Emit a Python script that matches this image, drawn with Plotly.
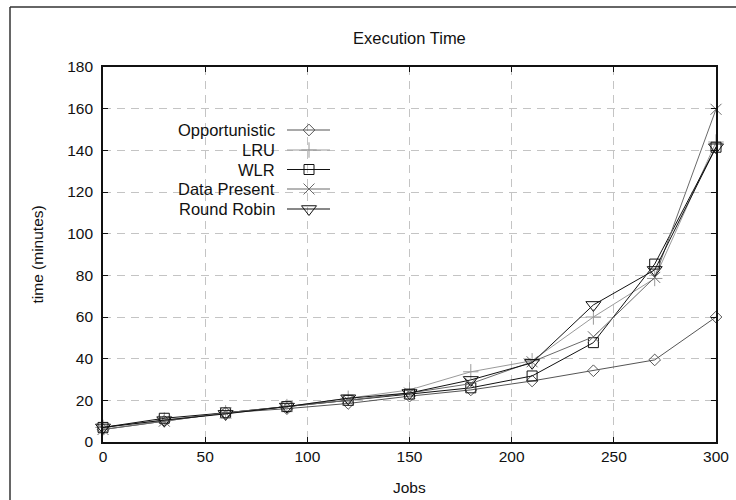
import plotly.graph_objects as go

jobs = [0, 30, 60, 90, 120, 150, 180, 210, 240, 270, 300]
opportunistic = [6, 10, 14, 16, 18.5, 22, 25, 29.3, 34.2, 39.4, 60]
lru = [7, 10.5, 14, 17, 21, 25, 33.7, 39, 60, 78.5, 144]
wlr = [7, 11.4, 14, 17, 20, 23, 26, 31.7, 47.7, 85.4, 141.5]
data_present = [6, 10, 14, 17, 20, 23.5, 28, 38.5, 50.5, 79, 159.7]
round_robin = [7, 10.5, 13.5, 17, 21, 23.5, 29.8, 38, 65.8, 82.6, 141.5]

series_names = ["Opportunistic", "LRU", "WLR", "Data Present", "Round Robin"]
series_values = [opportunistic, lru, wlr, data_present, round_robin]
colors = ["#555555", "#9a9a9a", "#111111", "#6a6a6a", "#111111"]
symbols = ["diamond-open", "cross-thin-open", "square-open", "x-thin-open", "triangle-down-open"]
sizes = [9, 11, 10, 11, 13]

# body margin is removed in the page (post_script), so figure coords = picture coords
W, H = 736, 500
L, R, T, B = 103, 716, 67, 442
FONT = "Liberation Sans, Arial, sans-serif"

fig = go.Figure()
for name, vals, c, s, sz in zip(series_names, series_values, colors, symbols, sizes):
    fig.add_trace(go.Scatter(
        x=jobs, y=vals, mode="lines+markers", name=name,
        line=dict(color=c, width=1),
        marker=dict(symbol=s, size=sz, color=c, line=dict(color=c, width=1)),
        showlegend=False, xaxis="x", yaxis="y", cliponaxis=False,
    ))

# custom legend (gnuplot style: label right-aligned, sample on the right)
leg_y = [130, 150, 169.5, 189, 209]
for name, c, s, sz, yy in zip(series_names, colors, symbols, sizes, leg_y):
    fig.add_trace(go.Scatter(
        x=[287, 330], y=[yy, yy], mode="lines", line=dict(color=c, width=1),
        showlegend=False, xaxis="x2", yaxis="y2", hoverinfo="skip"))
    fig.add_trace(go.Scatter(
        x=[309], y=[yy], mode="markers",
        marker=dict(symbol=s, size=sz, color=c, line=dict(color=c, width=1)),
        showlegend=False, xaxis="x2", yaxis="y2", hoverinfo="skip"))
    fig.add_annotation(x=277, y=yy, xref="x2", yref="y2", text=name,
                       showarrow=False, xanchor="right", yanchor="middle",
                       font=dict(family=FONT, size=16.5, color="#111"))

fig.add_annotation(x=(L + R) / 2, y=38, xref="x2", yref="y2", text="Execution Time",
                   showarrow=False, xanchor="center", yanchor="middle",
                   font=dict(family=FONT, size=16.5, color="#111"))
fig.add_annotation(x=(L + R) / 2, y=487, xref="x2", yref="y2", text="Jobs",
                   showarrow=False, xanchor="center", yanchor="middle",
                   font=dict(family=FONT, size=15.5, color="#111"))
fig.add_annotation(x=37, y=(T + B) / 2, xref="x2", yref="y2", text="time (minutes)",
                   showarrow=False, textangle=-90, xanchor="center", yanchor="middle",
                   font=dict(family=FONT, size=15.5, color="#111"))

# outer frame: only its left and top edges fall inside the picture
frame = dict(color="#333", width=1.5)
fig.add_shape(type="line", x0=10, y0=7, x1=W, y1=7, xref="x2", yref="y2",
              line=frame, layer="below")
fig.add_shape(type="line", x0=10, y0=7, x1=10, y1=H, xref="x2", yref="y2",
              line=frame, layer="below")

axis_common = dict(
    showline=True, linecolor="#111", linewidth=1.8, mirror="ticks",
    ticks="inside", ticklen=5, tickcolor="#111",
    showgrid=True, gridcolor="#c4c4c4", griddash="8px,6px", gridwidth=1,
    zeroline=False, tickfont=dict(family=FONT, size=15.5, color="#111"),
    ticklabeloverflow="allow",
)

fig.update_layout(
    width=W, height=H, margin=dict(l=0, r=0, t=0, b=0, pad=0, autoexpand=False),
    plot_bgcolor="rgba(0,0,0,0)", paper_bgcolor="white",
    xaxis=dict(domain=[L / W, R / W], range=[0, 300], dtick=50, anchor="y",
               automargin=False, **axis_common),
    yaxis=dict(domain=[1 - B / H, 1 - T / H], range=[0, 180], dtick=20, anchor="x",
               automargin=False, ticklabelstandoff=5, **axis_common),
    xaxis2=dict(domain=[0, 1], range=[0, W], visible=False, anchor="y2", fixedrange=True,
                automargin=False),
    yaxis2=dict(domain=[0, 1], range=[H, 0], visible=False, anchor="x2", fixedrange=True,
                automargin=False),
    showlegend=False,
    hovermode=False,
)

fig.write_html(
    "out.html",
    config={"displayModeBar": False, "staticPlot": True},
    post_script="document.body.style.margin='0';document.body.style.overflow='hidden';",
)
